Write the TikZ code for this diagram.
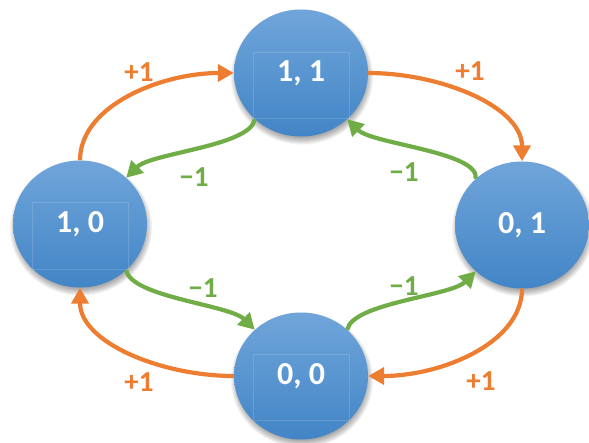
\documentclass[tikz,border=0pt]{standalone}
\usepackage{fontspec}
\setmainfont{Carlito}
\usetikzlibrary{shapes.geometric,arrows.meta,calc}
\definecolor{orng}{RGB}{237,125,49}
\definecolor{grn}{RGB}{112,173,71}
\definecolor{btop}{RGB}{112,165,218}
\definecolor{bbot}{RGB}{66,133,198}
\begin{document}
\begin{tikzpicture}[x=1pt,y=-1pt,
  state/.style={ellipse, minimum width=134pt, minimum height=127pt, inner sep=0pt,
    top color=btop, bottom color=bbot, draw=none, text=white,
    font=\bfseries\fontsize{32}{36}\selectfont},
  oarr/.style={draw=orng, line width=4.2pt, -{Triangle[length=16pt,width=17pt]}},
  garr/.style={draw=grn, line width=4.2pt, -{Triangle[length=16pt,width=17pt]}},
  lbl/.style={font=\bfseries\fontsize{29}{32}\selectfont, inner sep=0pt},
  tbox/.style={draw=white, draw opacity=0.14, line width=0.5pt}]
\useasboundingbox (0,0) rectangle (589,442);
\fill[white] (0,0) rectangle (589,442);
% centres
\coordinate (cT) at (301,73);
\coordinate (cL) at (80,224);
\coordinate (cR) at (522,225);
\coordinate (cB) at (301,376);
% soft shadows
\foreach \c in {cT,cL,cR,cB}{
  \foreach \k in {1,...,9}{
    \fill[black,opacity=0.045] ($(\c)+(1,4)$) ellipse [x radius={63+\k*0.9}, y radius={59.5+\k*0.9}];
  }
}
% states
\node[state] (T) at (cT) {1, 1};
\node[state] (L) at (cL) {1, 0};
\node[state] (R) at (cR) {0, 1};
\node[state] (B) at (cB) {0, 0};
% faint text boxes
\draw[tbox] (253,52) rectangle (349,118);
\draw[tbox] (32,202) rectangle (128,269);
\draw[tbox] (253,354) rectangle (349,420);
% orange arrows (+1)
\draw[oarr] (L.north) .. controls +(0,-55) and +(-72,0) .. (T.west);
\draw[oarr] (T.east) .. controls +(72,0) and +(0,-55) .. (R.north);
\draw[oarr] (R.south) .. controls +(0,55) and +(72,0) .. (B.east);
\draw[oarr] (B.west) .. controls +(-72,0) and +(0,55) .. (L.south);
% green arrows (-1)
\draw[garr] (T.225) .. controls +(-4,27) and +(25,-25) .. (L.45);
\draw[garr] (R.135) .. controls +(4,-27) and +(25,25) .. (T.315);
\draw[garr] (L.315) .. controls +(5,27) and +(-25,-25) .. (B.135);
\draw[garr] (B.45) .. controls +(5,-27) and +(-25,25) .. (R.225);
% labels
\node[lbl, text=orng] (p1) at (139,72) {+1};
\node[lbl, text=orng] (p2) at (470,71) {+1};
\node[lbl, text=orng] (p3) at (481,381) {+1};
\node[lbl, text=orng] (p4) at (139,382) {+1};
\node[lbl, text=grn] (m1) at (194,177) {−1};
\node[lbl, text=grn] (m2) at (404,172) {−1};
\node[lbl, text=grn] (m3) at (203,288) {−1};
\node[lbl, text=grn] (m4) at (404,286) {−1};
\end{tikzpicture}
\end{document}
